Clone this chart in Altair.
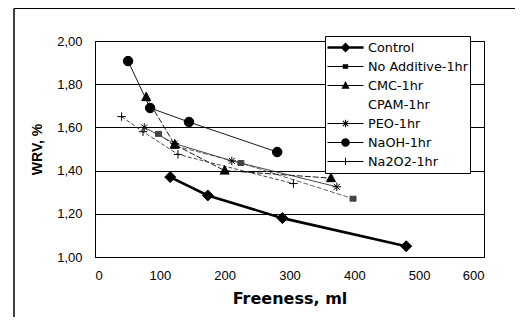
import math
import altair as alt
import pandas as pd

series_names = ["Control", "No Additive-1hr", "CMC-1hr", "CPAM-1hr", "PEO-1hr", "NaOH-1hr", "Na2O2-1hr"]

control_x = [116, 174, 289, 480]
control_y = [1.37, 1.285, 1.18, 1.05]
noadd_x = [98, 123, 225, 398]
noadd_y = [1.57, 1.515, 1.435, 1.27]
cmc_x = [79, 123, 200, 364]
cmc_y = [1.74, 1.52, 1.40, 1.365]
peo_x = [76, 123, 211, 373]
peo_y = [1.60, 1.525, 1.445, 1.325]
naoh_x = [51, 85, 145, 281]
naoh_y = [1.907, 1.69, 1.625, 1.486]
na2o2_x = [41, 74, 128, 306]
na2o2_y = [1.65, 1.58, 1.475, 1.34]

x_ticks = [0, 100, 200, 300, 400, 500, 600]
y_ticks = [1.0, 1.2, 1.4, 1.6, 1.8, 2.0]

series_data = {
    "Control": (control_x, control_y),
    "No Additive-1hr": (noadd_x, noadd_y),
    "CMC-1hr": (cmc_x, cmc_y),
    "PEO-1hr": (peo_x, peo_y),
    "NaOH-1hr": (naoh_x, naoh_y),
    "Na2O2-1hr": (na2o2_x, na2o2_y),
}

rows = []
for name, (xs, ys) in series_data.items():
    for xv, yv in zip(xs, ys):
        rows.append({"series": name, "freeness": xv, "wrv": yv})
df = pd.DataFrame(rows)


def fmt(v):
    s = ("%.4f" % v).rstrip("0").rstrip(".")
    return "0" if s in ("-0", "") else s


def bar(ax, ay, bx, by, t):
    """Filled thin rectangle from A to B (half thickness t), clockwise winding."""
    dx, dy = bx - ax, by - ay
    ln = math.hypot(dx, dy)
    nx, ny = -dy / ln * t, dx / ln * t
    pts = [(ax + nx, ay + ny), (bx + nx, by + ny), (bx - nx, by - ny), (ax - nx, ay - ny)]
    area = sum(pts[i][0] * pts[(i + 1) % 4][1] - pts[(i + 1) % 4][0] * pts[i][1] for i in range(4))
    if area < 0:
        pts = pts[::-1]
    return "M" + "L".join(f"{fmt(x)},{fmt(y)}" for x, y in pts) + "Z"


def marker(name, s, solid=False):
    if name == "Control":
        a = 1.1 * s
        return f"M0,{fmt(-a)}L{fmt(a)},0L0,{fmt(a)}L{fmt(-a)},0Z"
    if name == "No Additive-1hr":
        a = 0.6 * s
        b = 0.5 * s
        return f"M{fmt(-a)},{fmt(-b)}H{fmt(a)}V{fmt(b)}H{fmt(-a)}Z"
    if name == "CMC-1hr":
        return f"M0,{fmt(-1.0*s)}L{fmt(0.9*s)},{fmt(0.7*s)}H{fmt(-0.9*s)}Z"
    if name == "PEO-1hr":
        a = 0.85 * s
        d = 0.6 * s
        if solid:
            t = 0.028
            return (bar(-a, 0, a, 0, t) + bar(0, -a, 0, a, t)
                    + bar(-d, -d, d, d, t) + bar(-d, d, d, -d, t))
        return (f"M{fmt(-a)},0H{fmt(a)}M0,{fmt(-a)}V{fmt(a)}"
                f"M{fmt(-d)},{fmt(-d)}L{fmt(d)},{fmt(d)}M{fmt(-d)},{fmt(d)}L{fmt(d)},{fmt(-d)}")
    if name == "NaOH-1hr":
        r = 0.95 * s
        return f"M{fmt(r)},0A{fmt(r)},{fmt(r)},0,1,1,{fmt(-r)},0A{fmt(r)},{fmt(r)},0,1,1,{fmt(r)},0Z"
    if name == "Na2O2-1hr":
        a = 0.85 * s
        if solid:
            t = 0.028
            return bar(-a, 0, a, 0, t) + bar(0, -a, 0, a, t)
        return f"M{fmt(-a)},0H{fmt(a)}M0,{fmt(-a)}V{fmt(a)}"
    return "M0,0"


def legend_symbol(name):
    if name == "CPAM-1hr":
        return "M0,0"
    t = 0.075 if name == "Control" else 0.03
    return bar(-1, 0, 1, 0, t) + marker(name, 0.25, solid=True)


line_style = {
    "Control": dict(strokeWidth=2.6, color="black"),
    "No Additive-1hr": dict(strokeWidth=0.9, color="#555555", strokeDash=[5, 2]),
    "CMC-1hr": dict(strokeWidth=0.9, color="black", strokeDash=[6, 2]),
    "PEO-1hr": dict(strokeWidth=0.9, color="#333333"),
    "NaOH-1hr": dict(strokeWidth=0.9, color="black"),
    "Na2O2-1hr": dict(strokeWidth=0.9, color="#333333", strokeDash=[4, 2]),
}

x_enc = alt.X("freeness:Q", scale=alt.Scale(domain=[0, 600], nice=False),
              axis=alt.Axis(values=x_ticks, title="Freeness, ml", grid=False, ticks=False,
                            labelPadding=12, titlePadding=8, labelFont="Liberation Sans",
                            labelFontSize=13, titleFont="DejaVu Sans", titleFontSize=16,
                            titleFontWeight="bold", labelColor="black", titleColor="black",
                            domainColor="black"))
y_enc = alt.Y("wrv:Q", scale=alt.Scale(domain=[1.0, 2.0], nice=False, zero=False),
              axis=alt.Axis(values=y_ticks, title="WRV, %", grid=True, gridColor="black",
                            gridWidth=1, gridOpacity=1, ticks=False, labelPadding=13,
                            titlePadding=12, labelFont="Liberation Sans", labelFontSize=13,
                            labelExpr="replace(format(datum.value, '.2f'), '.', ',')",
                            titleFont="Liberation Sans", titleFontSize=14,
                            titleFontWeight="bold", labelColor="black", titleColor="black",
                            domainColor="black"))

base = alt.Chart(df)
layers = []
for name in series_data:
    st = line_style[name]
    layers.append(
        base.transform_filter(alt.datum.series == name)
        .mark_line(**st)
        .encode(x=x_enc, y=y_enc)
    )
for name in series_data:
    fillc = "#444444" if name == "No Additive-1hr" else "black"
    layers.append(
        base.transform_filter(alt.datum.series == name)
        .mark_point(shape=marker(name, 1.0), size=100, filled=False, fill=fillc,
                    stroke=fillc, strokeWidth=1, opacity=1, fillOpacity=1)
        .encode(x=x_enc, y=y_enc)
    )

legend_layer = base.mark_point(size=0, filled=True, fill="black", stroke="black",
                               strokeWidth=1).encode(
    x=x_enc, y=y_enc,
    shape=alt.Shape("series:N",
                    scale=alt.Scale(domain=series_names,
                                    range=[legend_symbol(n) for n in series_names]),
                    legend=alt.Legend(orient="none", legendX=230, legendY=-5, title=None,
                                      fillColor="white", strokeColor="black", padding=2,
                                      clipHeight=19, rowPadding=0, symbolSize=1296,
                                      symbolFillColor="black", symbolStrokeColor="black",
                                      symbolStrokeWidth=1, symbolOpacity=1, labelOffset=4,
                                      labelFont="DejaVu Sans", labelFontSize=12.8,
                                      labelColor="black", labelLimit=200)),
)
layers.append(legend_layer)

frame = alt.Data(values=[{"k": 1}])
top_rule = alt.Chart(frame).mark_rule(color="black", strokeWidth=1).encode(
    x=alt.value(-81), x2=alt.value(420), y=alt.value(-32.5))
left_rule = alt.Chart(frame).mark_rule(color="black", strokeWidth=1.5).encode(
    x=alt.value(-81), y=alt.value(-32.5), y2=alt.value(290))
layers += [top_rule, left_rule]

chart = alt.layer(*layers).properties(
    width=389, height=216,
    autosize=alt.AutoSizeParams(type="none"),
    padding={"left": 87, "top": 33, "right": 32, "bottom": 60},
    background="white",
).configure_view(stroke="black", strokeWidth=1)

chart.save("out.html", embed_options={"renderer": "svg", "actions": False})
